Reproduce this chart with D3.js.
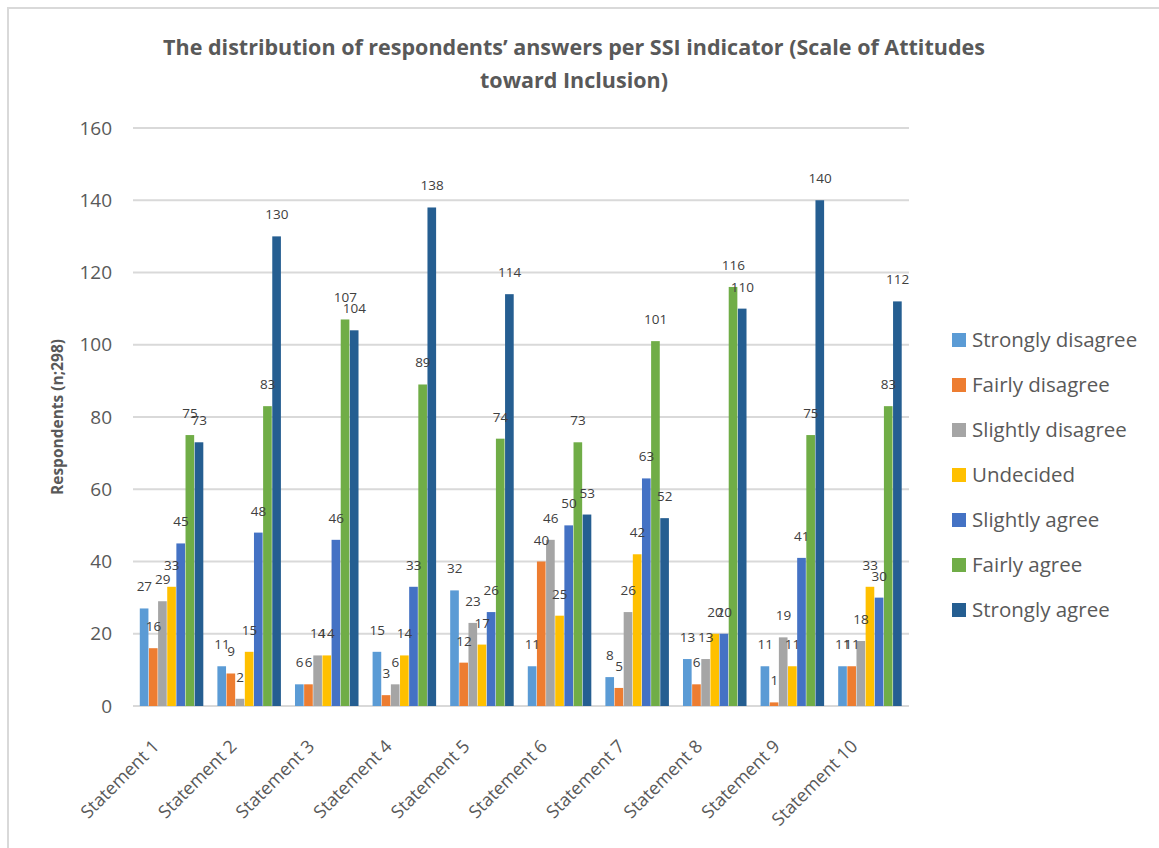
<html>
<head>
    <meta http-equiv="Content-Type" content="text/html;charset=UTF-8">
    <title>SSI indicator</title>
    <style type="text/css">
        *{margin: 0;padding: 0;}
        body{background: #fff;}
        svg{display: block;}
        text{font-family: "Open Sans", "DejaVu Sans", sans-serif;}
    </style>
</head>
<body>
    <div class="container"></div>
    <script type="text/javascript" src="https://cdn.jsdelivr.net/npm/d3@7/dist/d3.min.js"></script>
    <script>
        var categories = ["Statement 1", "Statement 2", "Statement 3", "Statement 4", "Statement 5",
                          "Statement 6", "Statement 7", "Statement 8", "Statement 9", "Statement 10"];
        var seriesNames = ["Strongly disagree", "Fairly disagree", "Slightly disagree", "Undecided",
                           "Slightly agree", "Fairly agree", "Strongly agree"];
        var stronglyDisagree = [27, 11, 6, 15, 32, 11, 8, 13, 11, 11];
        var fairlyDisagree   = [16, 9, 6, 3, 12, 40, 5, 6, 1, 11];
        var slightlyDisagree = [29, 2, 14, 6, 23, 46, 26, 13, 19, 18];
        var undecided        = [33, 15, 14, 14, 17, 25, 42, 20, 11, 33];
        var slightlyAgree    = [45, 48, 46, 33, 26, 50, 63, 20, 41, 30];
        var fairlyAgree      = [75, 83, 107, 89, 74, 73, 101, 116, 75, 83];
        var stronglyAgree    = [73, 130, 104, 138, 114, 53, 52, 110, 140, 112];
        var yTicks = [0, 20, 40, 60, 80, 100, 120, 140, 160];
        var colors = ["#5b9bd5", "#ed7d31", "#a5a5a5", "#ffc000", "#4472c4", "#70ad47", "#255e91"];

        var allSeries = [stronglyDisagree, fairlyDisagree, slightlyDisagree, undecided,
                         slightlyAgree, fairlyAgree, stronglyAgree];

        var width = 1159, height = 848;
        var plotLeft = 133, plotRight = 909, plotTop = 128, plotBottom = 706;

        var svg = d3.select(".container").append("svg")
            .attr("width", width)
            .attr("height", height);

        // chart border (right/bottom run off the picture)
        svg.append("rect")
            .attr("x", 8).attr("y", 8)
            .attr("width", width + 10).attr("height", height + 10)
            .attr("fill", "#fff")
            .attr("stroke", "#d9d9d9").attr("stroke-width", 2);

        var x0 = d3.scaleBand().domain(categories).range([plotLeft, plotRight]).paddingInner(0.175).paddingOuter(0.0875);
        var x1 = d3.scaleBand().domain(d3.range(seriesNames.length)).range([0, x0.bandwidth()]);
        var y = d3.scaleLinear().domain([0, 160]).range([plotBottom, plotTop]);

        // title
        var title = svg.append("text")
            .attr("text-anchor", "middle")
            .attr("fill", "#595959").attr("font-weight", "bold").attr("font-size", 21.5);
        title.append("tspan").attr("x", 574).attr("y", 55)
            .text("The distribution of respondents\u2019 answers per SSI indicator (Scale of Attitudes");
        title.append("tspan").attr("x", 574).attr("y", 88)
            .text("toward Inclusion)");

        // gridlines
        svg.append("g").selectAll("line").data(yTicks).enter().append("line")
            .attr("x1", plotLeft).attr("x2", plotRight)
            .attr("y1", function(d){ return y(d); })
            .attr("y2", function(d){ return y(d); })
            .attr("stroke", "#d9d9d9").attr("stroke-width", 2);

        // y axis
        var yAxis = svg.append("g")
            .attr("transform", "translate(" + (plotLeft - 21) + ",0)")
            .call(d3.axisLeft(y).tickValues(yTicks).tickSize(0).tickPadding(0));
        yAxis.select(".domain").remove();
        yAxis.selectAll("text")
            .attr("font-family", "\"Open Sans\", sans-serif")
            .attr("font-size", 19).attr("fill", "#595959");

        svg.append("text")
            .attr("transform", "translate(63,417) rotate(-90)")
            .attr("text-anchor", "middle")
            .attr("fill", "#595959").attr("font-weight", "bold").attr("font-size", 15.5)
            .text("Respondents (n;298)");

        // bars
        var groups = svg.append("g").selectAll("g").data(categories).enter().append("g")
            .attr("transform", function(d){ return "translate(" + x0(d) + ",0)"; });

        groups.selectAll("rect")
            .data(function(d, i){ return allSeries.map(function(s, k){ return {k: k, v: s[i]}; }); })
            .enter().append("rect")
            .attr("x", function(d){ return x1(d.k); })
            .attr("y", function(d){ return y(d.v); })
            .attr("width", x1.bandwidth() - 0.5)
            .attr("height", function(d){ return y(0) - y(d.v); })
            .attr("fill", function(d){ return colors[d.k]; });

        groups.selectAll("text.lbl")
            .data(function(d, i){ return allSeries.map(function(s, k){ return {k: k, v: s[i]}; }); })
            .enter().append("text").attr("class", "lbl")
            .attr("x", function(d){ return x1(d.k) + x1.bandwidth() / 2; })
            .attr("y", function(d){ return y(d.v) - 17; })
            .attr("text-anchor", "middle")
            .attr("font-size", 13.5).attr("fill", "#404040")
            .text(function(d){ return d.v; });

        // x axis
        var xAxis = svg.append("g")
            .attr("transform", "translate(0," + (plotBottom + 12) + ")")
            .call(d3.axisBottom(x0).tickSize(0).tickPadding(0));
        xAxis.select(".domain").remove();
        xAxis.selectAll("text")
            .attr("font-family", "\"Open Sans\", sans-serif")
            .attr("font-size", 18).attr("fill", "#595959")
            .attr("text-anchor", "end")
            .attr("dy", "0.35em")
            .attr("transform", "translate(-16,25) rotate(-45)");

        // legend
        var legend = svg.append("g").selectAll("g").data(seriesNames).enter().append("g")
            .attr("transform", function(d, i){ return "translate(952," + (340 + i * 45) + ")"; });
        legend.append("rect")
            .attr("x", 0).attr("y", -7).attr("width", 14).attr("height", 14)
            .attr("fill", function(d, i){ return colors[i]; });
        legend.append("text")
            .attr("x", 20).attr("dy", "0.35em")
            .attr("font-size", 20.5).attr("fill", "#595959")
            .text(function(d){ return d; });
    </script>
</body>
</html>
